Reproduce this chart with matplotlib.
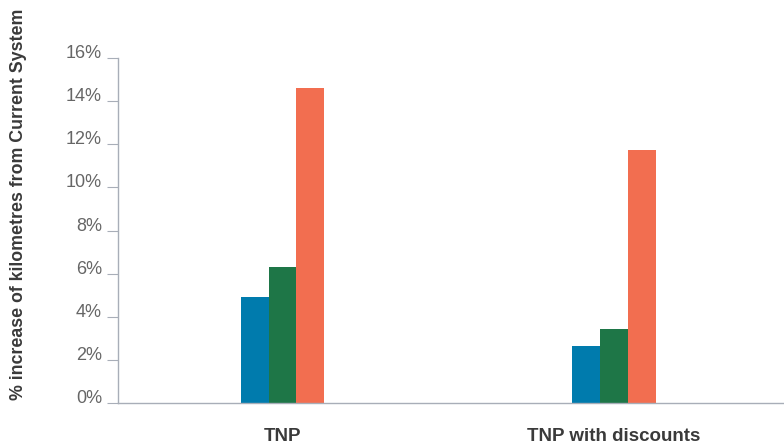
import matplotlib
matplotlib.use("Agg")
from matplotlib import pyplot as plt
from matplotlib.ticker import FuncFormatter

# values (fraction of current system)
categories = ["TNP", "TNP with discounts"]
series_a = [0.049, 0.0265]
series_b = [0.063, 0.0345]
series_c = [0.146, 0.1175]
colors = ["#007BAD", "#1E7647", "#F26E50"]
yticks = [0, 0.02, 0.04, 0.06, 0.08, 0.10, 0.12, 0.14, 0.16]

plt.rcParams["font.family"] = ["Liberation Sans", "DejaVu Sans"]

fig = plt.figure(figsize=(7.84, 4.47), dpi=100)
ax = fig.add_axes([0.1505, 0.0984, 0.8495, 0.7718])

w = 0.0836
x = list(range(len(categories)))
for k, (vals, col) in enumerate(zip([series_a, series_b, series_c], colors)):
    ax.bar([i + (k - 1) * w for i in x], vals, width=w, color=col, linewidth=0)

ax.set_xlim(-0.496, 1.513)
ax.set_ylim(0, 0.16)
ax.set_yticks(yticks)
ax.yaxis.set_major_formatter(FuncFormatter(lambda v, p: "%d%%" % round(v * 100)))
ax.set_xticks(x)
ax.set_xticklabels(categories, fontsize=13.5, color="#3a3a3a", fontweight="bold")
ax.tick_params(axis="x", length=0, pad=18)
ax.tick_params(axis="y", length=8, width=0.8, color="#A8AEB8",
               labelsize=13, labelcolor="#666666", pad=3.5)
for lbl in ax.get_yticklabels():
    lbl.set_va("baseline")

for s in ["top", "right"]:
    ax.spines[s].set_visible(False)
for s in ["left", "bottom"]:
    ax.spines[s].set_color("#A8AEB8")
    ax.spines[s].set_linewidth(1.0)

fig.text(0.023, 0.5425, "% increase of kilometres from Current System",
         rotation=90, ha="center", va="center", fontsize=12.8,
         color="#3a3a3a", fontweight="bold")

fig.savefig("out.png", dpi=100)
